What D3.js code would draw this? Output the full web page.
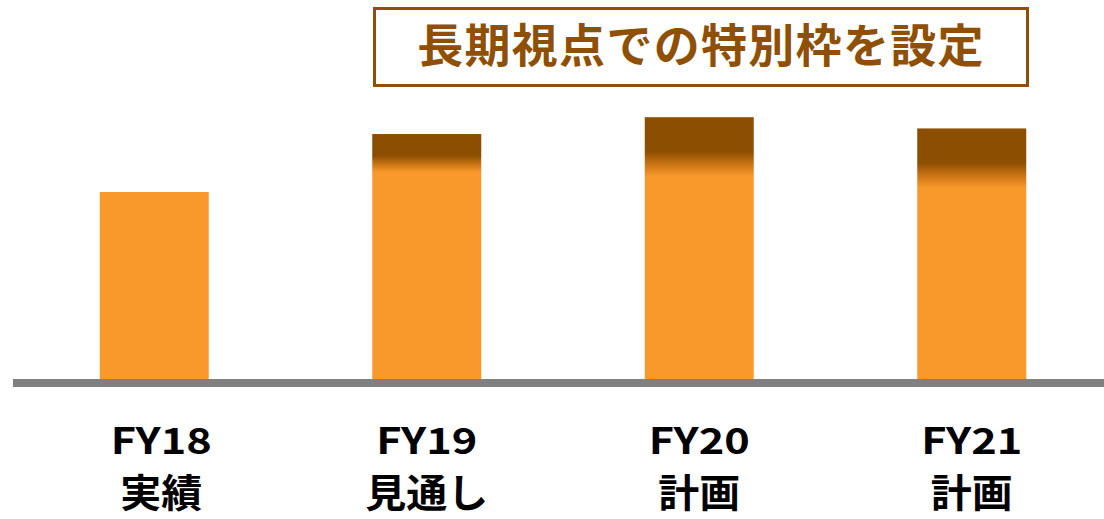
<!DOCTYPE html>
<html><head><meta charset="utf-8">
<script src="https://cdn.jsdelivr.net/npm/d3@7"></script>
<style>
html,body{margin:0;padding:0;background:#fff;}
svg{display:block;}
text{font-family:"Noto Sans CJK JP","Noto Sans",sans-serif;font-weight:700;}
</style></head>
<body>
<svg id="chart" width="1104" height="519"></svg>
<script>
const categories = ["FY18", "FY19", "FY20", "FY21"];
const subLabels = ["実績", "見通し", "計画", "計画"];
const baseValues = [100, 115, 115, 109];
const specialValues = [0, 16, 25, 25];
const titleText = "長期視点での特別枠を設定";

const W = 1104, H = 519;
const orange = "#F9982B", dark = "#8C4E00", gray = "#808080", brown = "#8F5006";
const svg = d3.select("#chart");
const defs = svg.append("defs");

const x = d3.scaleBand().domain(categories).range([18, 1108]).paddingInner(0.6).paddingOuter(0.3);
const y = d3.scaleLinear().domain([0, 100]).range([379, 192]);

const data = categories.map((c, i) => ({c, base: baseValues[i], special: specialValues[i], sub: subLabels[i], i}));

data.forEach(d => {
  const top = y(d.base + d.special), bottom = y(0), h = bottom - top;
  const boundary = y(d.base);
  const fade = (boundary - top) * 0.27;
  const g = defs.append("linearGradient").attr("id", "g" + d.i)
    .attr("gradientUnits", "userSpaceOnUse")
    .attr("x1", 0).attr("x2", 0).attr("y1", top).attr("y2", bottom);
  if (d.special > 0) {
    g.append("stop").attr("offset", 0).attr("stop-color", dark);
    g.append("stop").attr("offset", (boundary - fade - top) / h).attr("stop-color", dark);
    g.append("stop").attr("offset", (boundary - top) / h).attr("stop-color", "#C97314");
    g.append("stop").attr("offset", (boundary + fade - top) / h).attr("stop-color", orange);
  }
  g.append("stop").attr("offset", 1).attr("stop-color", orange);
});

svg.append("g").selectAll("rect").data(data).join("rect")
  .attr("x", d => x(d.c))
  .attr("width", x.bandwidth())
  .attr("y", d => y(d.base + d.special))
  .attr("height", d => y(0) - y(d.base + d.special))
  .attr("fill", d => d.special > 0 ? `url(#g${d.i})` : orange);

// baseline
svg.append("line").attr("x1", 13).attr("x2", W).attr("y1", y(0) + 4).attr("y2", y(0) + 4)
  .attr("stroke", gray).attr("stroke-width", 8);

// category labels
const lab = svg.append("g").selectAll("g").data(data).join("g")
  .attr("transform", d => `translate(${x(d.c) + x.bandwidth() / 2 + (d.i === 0 ? 7 : 0)},0)`);
lab.append("text").attr("y", 454).attr("text-anchor", "middle")
  .attr("font-size", 36).attr("fill", "#000")
  .attr("textLength", 101).attr("lengthAdjust", "spacingAndGlyphs")
  .text(d => d.c);
lab.append("text").attr("y", 507).attr("text-anchor", "middle")
  .attr("font-size", 39).attr("fill", "#000")
  .attr("textLength", d => d.sub.length * 41).attr("lengthAdjust", "spacingAndGlyphs")
  .text(d => d.sub);

// title box
svg.append("rect").attr("x", 374.5).attr("y", 8.5).attr("width", 653).attr("height", 77)
  .attr("fill", "none").attr("stroke", brown).attr("stroke-width", 3);
svg.append("text").attr("x", 701).attr("y", 62).attr("text-anchor", "middle")
  .attr("font-size", 46).attr("letter-spacing", 1.3).attr("fill", brown).text(titleText);
</script>
</body></html>
